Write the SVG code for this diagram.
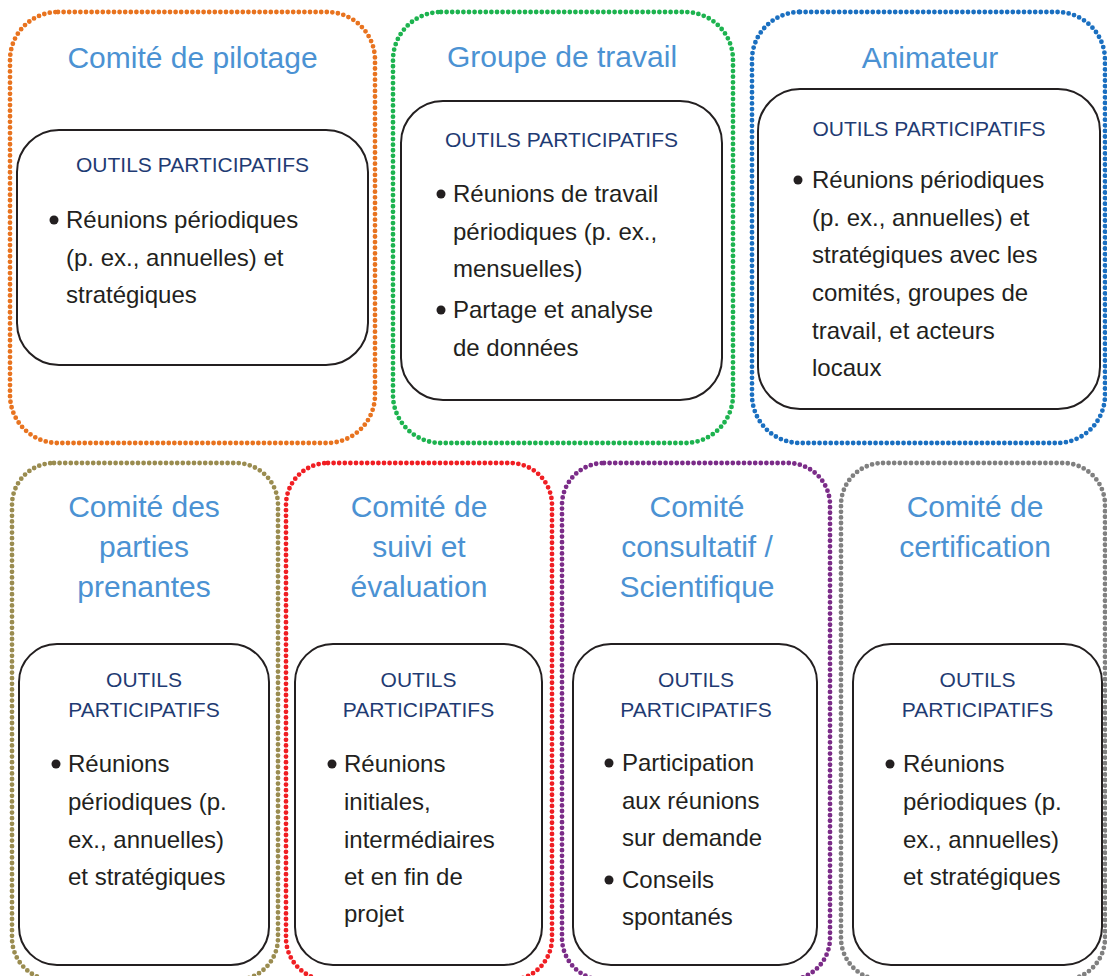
<svg xmlns="http://www.w3.org/2000/svg" width="1107" height="976" viewBox="0 0 1107 976">
<style>
.outer{fill:none;stroke-width:4.8;stroke-dasharray:0 5.6;stroke-linecap:round}
.inner{fill:#fff;stroke:#231f20;stroke-width:2}
.title{font-family:"Liberation Sans",Arial,sans-serif;font-size:30px;fill:#4b92d3;text-anchor:middle}
.head{font-family:"Liberation Sans",Arial,sans-serif;font-size:21px;fill:#1f3b73;text-anchor:middle}
.txt{font-family:"Liberation Sans",Arial,sans-serif;font-size:24px;fill:#231f20}
.dot{fill:#231f20}
</style>
<rect width="1107" height="976" fill="#fff"/>

<g id="comite-pilotage">
<rect class="outer" x="10" y="12" width="365" height="431" rx="48" stroke="#e8731f"/>
<text class="title" x="192.5" y="68">Comité de pilotage</text>
<rect class="inner" x="17" y="130" width="351" height="235" rx="42"/>
<text class="head" x="192.5" y="172">OUTILS PARTICIPATIFS</text>
<circle class="dot" cx="54" cy="220" r="4.5"/>
<text class="txt" x="66" y="228">Réunions périodiques</text>
<text class="txt" x="66" y="266">(p. ex., annuelles) et</text>
<text class="txt" x="66" y="303">stratégiques</text>
</g>

<g id="groupe-travail">
<rect class="outer" x="393" y="12" width="340" height="431" rx="48" stroke="#1db34f"/>
<text class="title" x="562" y="67">Groupe de travail</text>
<rect class="inner" x="401" y="101" width="321" height="299" rx="42"/>
<text class="head" x="561.5" y="147">OUTILS PARTICIPATIFS</text>
<circle class="dot" cx="441" cy="194" r="4.5"/>
<text class="txt" x="453" y="202">Réunions de travail</text>
<text class="txt" x="453" y="240">périodiques (p. ex.,</text>
<text class="txt" x="453" y="277">mensuelles)</text>
<circle class="dot" cx="441" cy="310" r="4.5"/>
<text class="txt" x="453" y="318">Partage et analyse</text>
<text class="txt" x="453" y="356">de données</text>
</g>

<g id="animateur">
<rect class="outer" x="752" y="12" width="353" height="431" rx="48" stroke="#1a6fc0"/>
<text class="title" x="930" y="68">Animateur</text>
<rect class="inner" x="758" y="89" width="342" height="320" rx="42"/>
<text class="head" x="929" y="136">OUTILS PARTICIPATIFS</text>
<circle class="dot" cx="798" cy="180" r="4.5"/>
<text class="txt" x="812" y="188">Réunions périodiques</text>
<text class="txt" x="812" y="226">(p. ex., annuelles) et</text>
<text class="txt" x="812" y="263">stratégiques avec les</text>
<text class="txt" x="812" y="301">comités, groupes de</text>
<text class="txt" x="812" y="339">travail, et acteurs</text>
<text class="txt" x="812" y="376">locaux</text>
</g>

<g id="comite-parties-prenantes">
<rect class="outer" x="12" y="463" width="266" height="517" rx="42" stroke="#9a8c50"/>
<text class="title" x="144" y="517">Comité des</text>
<text class="title" x="144" y="557">parties</text>
<text class="title" x="144" y="597">prenantes</text>
<rect class="inner" x="19" y="644" width="250" height="321" rx="38"/>
<text class="head" x="144" y="687">OUTILS</text>
<text class="head" x="144" y="717">PARTICIPATIFS</text>
<circle class="dot" cx="56" cy="764" r="4.5"/>
<text class="txt" x="68" y="772">Réunions</text>
<text class="txt" x="68" y="810">périodiques (p.</text>
<text class="txt" x="68" y="848">ex., annuelles)</text>
<text class="txt" x="68" y="885">et stratégiques</text>
</g>

<g id="comite-suivi-evaluation">
<rect class="outer" x="286" y="463" width="266" height="517" rx="42" stroke="#f01e23"/>
<text class="title" x="419" y="517">Comité de</text>
<text class="title" x="419" y="557">suivi et</text>
<text class="title" x="419" y="597">évaluation</text>
<rect class="inner" x="295" y="644" width="247" height="321" rx="38"/>
<text class="head" x="418.5" y="687">OUTILS</text>
<text class="head" x="418.5" y="717">PARTICIPATIFS</text>
<circle class="dot" cx="332" cy="764" r="4.5"/>
<text class="txt" x="344" y="772">Réunions</text>
<text class="txt" x="344" y="810">initiales,</text>
<text class="txt" x="344" y="848">intermédiaires</text>
<text class="txt" x="344" y="885">et en fin de</text>
<text class="txt" x="344" y="922">projet</text>
</g>

<g id="comite-consultatif">
<rect class="outer" x="562" y="463" width="268" height="517" rx="42" stroke="#7b2c88"/>
<text class="title" x="697" y="517">Comité</text>
<text class="title" x="697" y="557">consultatif /</text>
<text class="title" x="697" y="597">Scientifique</text>
<rect class="inner" x="573" y="644" width="244" height="321" rx="38"/>
<text class="head" x="696" y="687">OUTILS</text>
<text class="head" x="696" y="717">PARTICIPATIFS</text>
<circle class="dot" cx="609" cy="763" r="4.5"/>
<text class="txt" x="622" y="771">Participation</text>
<text class="txt" x="622" y="809">aux réunions</text>
<text class="txt" x="622" y="846">sur demande</text>
<circle class="dot" cx="609" cy="880" r="4.5"/>
<text class="txt" x="622" y="888">Conseils</text>
<text class="txt" x="622" y="925">spontanés</text>
</g>

<g id="comite-certification">
<rect class="outer" x="841" y="463" width="264" height="517" rx="42" stroke="#808080"/>
<text class="title" x="975" y="517">Comité de</text>
<text class="title" x="975" y="557">certification</text>
<rect class="inner" x="853" y="644" width="249" height="321" rx="38"/>
<text class="head" x="977.5" y="687">OUTILS</text>
<text class="head" x="977.5" y="717">PARTICIPATIFS</text>
<circle class="dot" cx="890" cy="764" r="4.5"/>
<text class="txt" x="903" y="772">Réunions</text>
<text class="txt" x="903" y="810">périodiques (p.</text>
<text class="txt" x="903" y="848">ex., annuelles)</text>
<text class="txt" x="903" y="885">et stratégiques</text>
</g>
</svg>
